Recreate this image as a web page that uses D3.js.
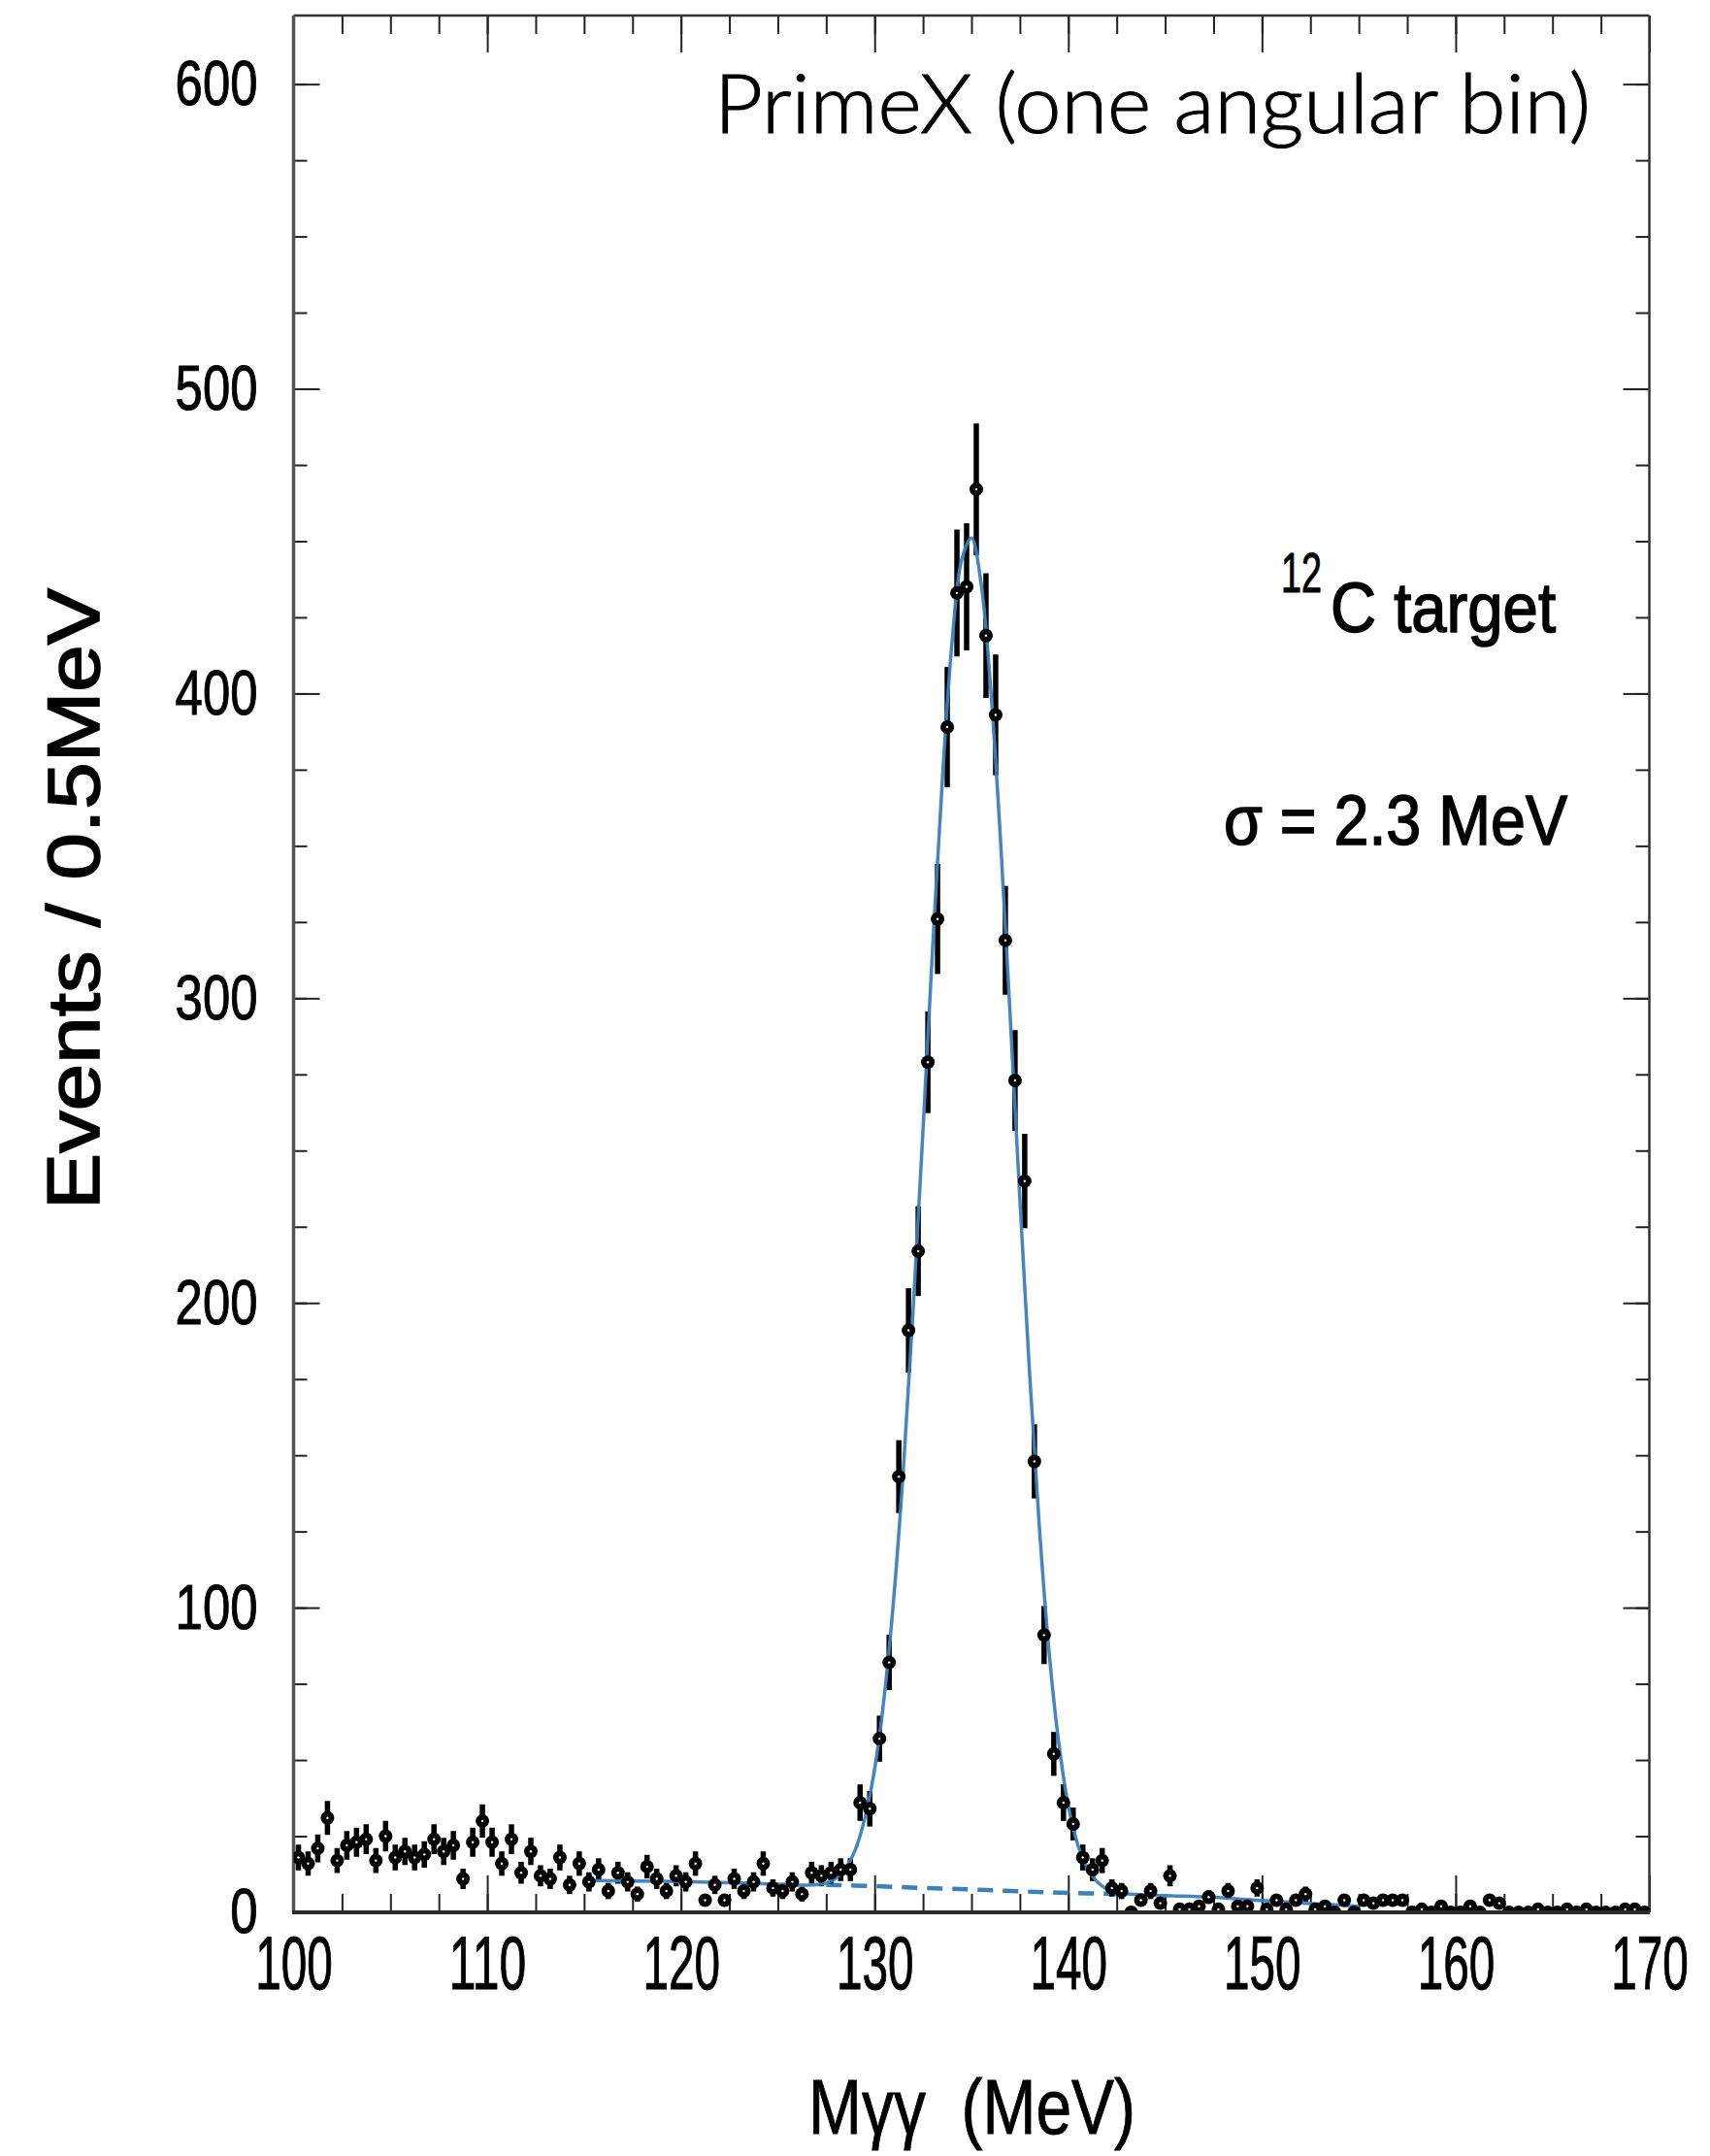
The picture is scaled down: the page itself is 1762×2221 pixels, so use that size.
<!DOCTYPE html>
<html>
<head>
<meta charset="utf-8">
<script src="https://cdn.jsdelivr.net/npm/d3@7"></script>
<style>
  body { margin: 0; background: #fff; }
</style>
</head>
<body>
<div id="chart"></div>
<script>
// two photon invariant mass, one angular bin, 0.5 MeV bins from 100 to 170
let binCenters = d3.range(100.25, 170, 0.5);

let counts = [
    18, 16, 21, 31, 17, 22, 23, 24, 17, 25,
    18, 20, 18, 19, 24, 20, 22, 11, 23, 30,
    23, 16, 24, 13, 20, 12, 11, 18, 9, 16,
    10, 14, 7, 13, 10, 6, 15, 11, 7, 12,
    10, 16, 4, 9, 4, 11, 7, 10, 16, 8,
    7, 10, 6, 13, 12, 13, 14, 14, 36, 34,
    57, 82, 143, 191, 217, 279, 326, 389, 433, 435,
    467, 419, 393, 319, 273, 240, 148, 91, 52, 36,
    29, 18, 14, 17, 8, 7, 0, 4, 7, 3,
    12, 1, 1, 2, 5, 1, 7, 2, 2, 8,
    1, 4, 1, 4, 6, 1, 2, 0, 4, 0,
    4, 3, 4, 4, 4, 0, 1, 0, 2, 0,
    0, 2, 0, 4, 3, 0, 0, 0, 1, 0,
    0, 1, 0, 1, 0, 0, 0, 1, 1, 0
];

// fitted curve (signal + background)
let fitMass = [115.5, 117.5, 120, 122.5, 125, 126.5, 127.5, 128, 128.5, 129, 129.5, 130, 130.5,
    131, 131.5, 132, 132.5, 133, 133.5, 134, 134.5, 135, 135.5, 136, 136.5, 137, 137.5,
    138, 138.5, 139, 139.5, 140, 140.5, 141, 141.5, 142, 142.5, 143.5, 145, 147.5, 150, 152.5, 155];
let fitValues = [10.4, 10.3, 10.1, 9.7, 9.2, 8.9, 9.6, 11.2, 14.5, 20.5, 31, 47, 71,
    104, 147, 199, 257, 317, 372, 417, 444, 451, 436, 401, 352, 294, 234,
    177, 127, 86, 56, 35, 22, 14.5, 10, 7.6, 6.4, 5.9, 5.5, 4.9, 3.9, 2.9, 2.0];

// background part under the peak
let bgMass = [127.5, 130, 132.5, 135, 137.5, 140, 142.5];
let bgValues = [9.0, 8.6, 8.0, 7.5, 6.9, 6.4, 6.0];

let xMajorTicks = [100, 110, 120, 130, 140, 150, 160, 170];
let yMajorTicks = [0, 100, 200, 300, 400, 500, 600];

let titleText = "PrimeX (one angular bin)";
let targetText = "C target";
let targetIsotope = "12";
let sigmaText = "σ = 2.3 MeV";
let xTitle = "Mγγ  (MeV)";
let yTitle = "Events / 0.5MeV";

// creating the values that will dictate the size of the chart
let svgWidth = 1762;
let svgHeight = 2221;

let margin = {
    top: 16,
    right: 62.5,
    bottom: 251,
    left: 302.5
};

let width = svgWidth - margin.left - margin.right;
let height = svgHeight - margin.top - margin.bottom;

let labelFont = "'Liberation Sans', Arial, Helvetica, sans-serif";
let fitColor = "#3a80b9";

var svg = d3.select("#chart")
    .append("svg")
    .attr("width", svgWidth)
    .attr("height", svgHeight)
    .style("display", "block");

var chartGroup = svg.append("g")
    .attr("transform", `translate(${margin.left}, ${margin.top})`);

// scales
var xScale = d3.scaleLinear()
    .domain([100, 170])
    .range([0, width]);

var yScale = d3.scaleLinear()
    .domain([0, 622.5])
    .range([height, 0]);

// axes, ticks point into the frame
function styleAxis(g) {
    g.select(".domain").remove();
    g.attr("color", "#222");
    g.selectAll("line").attr("stroke-width", 2);
}

// minor ticks first
chartGroup.append("g")
    .attr("transform", `translate(0, ${height})`)
    .call(d3.axisBottom(xScale).tickValues(d3.range(100, 170.1, 2.5)).tickSize(-19).tickSizeOuter(0).tickFormat(""))
    .call(styleAxis);

chartGroup.append("g")
    .call(d3.axisTop(xScale).tickValues(d3.range(100, 170.1, 2.5)).tickSize(-19).tickSizeOuter(0).tickFormat(""))
    .call(styleAxis);

chartGroup.append("g")
    .call(d3.axisLeft(yScale).tickValues(d3.range(0, 622, 25)).tickSize(-14).tickSizeOuter(0).tickFormat(""))
    .call(styleAxis);

chartGroup.append("g")
    .attr("transform", `translate(${width}, 0)`)
    .call(d3.axisRight(yScale).tickValues(d3.range(0, 622, 25)).tickSize(-14).tickSizeOuter(0).tickFormat(""))
    .call(styleAxis);

// major ticks with labels
var xAxisGroup = chartGroup.append("g")
    .attr("transform", `translate(0, ${height})`)
    .call(d3.axisBottom(xScale).tickValues(xMajorTicks).tickSize(-38).tickSizeOuter(0).tickPadding(24).tickFormat(d3.format("d")))
    .call(styleAxis);

xAxisGroup.attr("font-size", 77)
    .attr("font-family", labelFont);
xAxisGroup.selectAll("text")
    .attr("fill", "#000")
    .attr("stroke", "#000")
    .attr("stroke-width", 1)
    .attr("textLength", d => String(d).length * 26.5)
    .attr("lengthAdjust", "spacingAndGlyphs");

chartGroup.append("g")
    .call(d3.axisTop(xScale).tickValues(xMajorTicks).tickSize(-38).tickSizeOuter(0).tickFormat(""))
    .call(styleAxis);

var yAxisGroup = chartGroup.append("g")
    .call(d3.axisLeft(yScale).tickValues(yMajorTicks).tickSize(-27).tickSizeOuter(0).tickPadding(37).tickFormat(d3.format("d")))
    .call(styleAxis);

yAxisGroup.attr("font-size", 65.5)
    .attr("font-family", labelFont);
yAxisGroup.selectAll("text")
    .attr("fill", "#000")
    .attr("stroke", "#000")
    .attr("stroke-width", 1)
    .attr("textLength", d => String(d).length * 28.3)
    .attr("lengthAdjust", "spacingAndGlyphs");

chartGroup.append("g")
    .attr("transform", `translate(${width}, 0)`)
    .call(d3.axisRight(yScale).tickValues(yMajorTicks).tickSize(-27).tickSizeOuter(0).tickFormat(""))
    .call(styleAxis);

// frame
chartGroup.append("line")
    .attr("x1", 0).attr("x2", width).attr("y1", 0).attr("y2", 0)
    .attr("stroke", "#333").attr("stroke-width", 2.5);
chartGroup.append("line")
    .attr("x1", width).attr("x2", width).attr("y1", 0).attr("y2", height)
    .attr("stroke", "#333").attr("stroke-width", 2.5);
chartGroup.append("line")
    .attr("x1", 0).attr("x2", 0).attr("y1", 0).attr("y2", height)
    .attr("stroke", "#555").attr("stroke-width", 3.5);
chartGroup.append("line")
    .attr("x1", -1.5).attr("x2", width).attr("y1", height).attr("y2", height)
    .attr("stroke", "#2a2a2a").attr("stroke-width", 4);

// clip the data to the frame
chartGroup.append("clipPath")
    .attr("id", "plot-clip")
    .append("rect")
    .attr("x", 0)
    .attr("y", 0)
    .attr("width", width)
    .attr("height", height - 2);

var dataGroup = chartGroup.append("g")
    .attr("clip-path", "url(#plot-clip)");

var points = binCenters.map((m, i) => ({ mass: m, count: counts[i] }));

// fit curves
var fitPoints = fitMass.map((m, i) => ({ mass: m, value: fitValues[i] }));
var bgPoints = bgMass.map((m, i) => ({ mass: m, value: bgValues[i] }));

var fitLine = d3.line()
    .x(d => xScale(d.mass))
    .y(d => yScale(d.value))
    .curve(d3.curveCatmullRom.alpha(0.5));

dataGroup.append("path")
    .datum(bgPoints)
    .attr("d", fitLine)
    .attr("fill", "none")
    .attr("stroke", fitColor)
    .attr("stroke-width", 4.5)
    .attr("stroke-dasharray", "16,10");

// error bars
dataGroup.selectAll(".errbar")
    .data(points.filter(d => d.count > 0))
    .enter()
    .append("line")
    .attr("class", "errbar")
    .attr("x1", d => xScale(d.mass))
    .attr("x2", d => xScale(d.mass))
    .attr("y1", d => yScale(d.count - Math.sqrt(d.count)))
    .attr("y2", d => yScale(d.count + Math.sqrt(d.count)))
    .attr("stroke", "#000")
    .attr("stroke-width", 5.5);

dataGroup.append("path")
    .datum(fitPoints)
    .attr("d", fitLine)
    .attr("fill", "none")
    .attr("stroke", fitColor)
    .attr("stroke-width", 3.5)
    .attr("opacity", 0.95);

// markers
dataGroup.selectAll(".marker")
    .data(points)
    .enter()
    .append("circle")
    .attr("class", "marker")
    .attr("cx", d => xScale(d.mass))
    .attr("cy", d => yScale(d.count))
    .attr("r", 7)
    .attr("fill", "#000");

dataGroup.selectAll(".marker-dot")
    .data(points.filter(d => d.count > 0))
    .enter()
    .append("circle")
    .attr("class", "marker-dot")
    .attr("cx", d => xScale(d.mass))
    .attr("cy", d => yScale(d.count))
    .attr("r", 1.2)
    .attr("fill", "#fff");

// texts
svg.append("text")
    .attr("x", 736)
    .attr("y", 137)
    .attr("font-family", "Lato, 'Open Sans', sans-serif")
    .attr("font-weight", 300)
    .attr("font-size", 84)
    .attr("fill", "#000")
    .attr("stroke", "#000")
    .attr("stroke-width", 1.2)
    .attr("textLength", 903)
    .attr("lengthAdjust", "spacingAndGlyphs")
    .text(titleText);

svg.append("text")
    .attr("x", 1320)
    .attr("y", 610)
    .attr("font-family", labelFont)
    .attr("font-size", 57)
    .attr("fill", "#000")
    .attr("stroke", "#000")
    .attr("stroke-width", 1)
    .attr("textLength", 42)
    .attr("lengthAdjust", "spacingAndGlyphs")
    .text(targetIsotope);

svg.append("text")
    .attr("x", 1371)
    .attr("y", 651)
    .attr("font-family", labelFont)
    .attr("font-size", 73)
    .attr("stroke", "#000")
    .attr("stroke-width", 1.6)
    .attr("textLength", 232)
    .attr("lengthAdjust", "spacingAndGlyphs")
    .text(targetText);

svg.append("text")
    .attr("x", 1261)
    .attr("y", 870)
    .attr("font-family", labelFont)
    .attr("font-size", 73)
    .attr("stroke", "#000")
    .attr("stroke-width", 1.6)
    .attr("textLength", 354)
    .attr("lengthAdjust", "spacingAndGlyphs")
    .text(sigmaText);

// axis titles
svg.append("text")
    .attr("x", 833)
    .attr("y", 2198)
    .attr("font-family", labelFont)
    .attr("font-size", 79)
    .attr("stroke", "#000")
    .attr("stroke-width", 0.8)
    .attr("textLength", 337)
    .attr("lengthAdjust", "spacingAndGlyphs")
    .style("white-space", "pre")
    .text(xTitle);

svg.append("text")
    .attr("transform", "translate(102, 926) rotate(-90)")
    .attr("text-anchor", "middle")
    .attr("font-family", labelFont)
    .attr("font-size", 76)
    .attr("stroke", "#000")
    .attr("stroke-width", 1.6)
    .attr("textLength", 640)
    .attr("lengthAdjust", "spacingAndGlyphs")
    .text(yTitle);
</script>
</body>
</html>
